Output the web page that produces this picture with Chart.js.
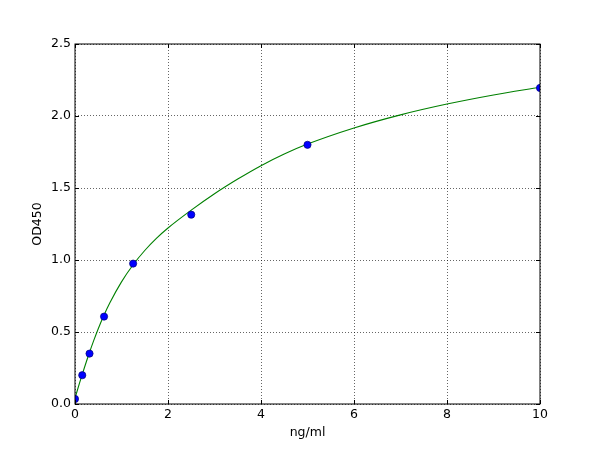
<!DOCTYPE html>
<html>
<head>
<meta charset="utf-8">
<script src="https://cdn.jsdelivr.net/npm/chart.js@4/dist/chart.umd.min.js"></script>
<style>
  html, body { margin: 0; padding: 0; background: #fff; }
</style>
</head>
<body>
<canvas id="elisaChart" width="600" height="450"></canvas>
<script>
// measured standards
const conc = [0, 0.156, 0.3125, 0.625, 1.25, 2.5, 5, 10];
const od = [0.035, 0.20, 0.35, 0.607, 0.975, 1.315, 1.80, 2.195];

// fitted curve
const curveX = [0, 0.1, 0.2, 0.3, 0.4, 0.5, 0.625, 0.75, 1, 1.25, 1.5, 1.75, 2, 2.5, 3, 3.5, 4, 4.5, 5, 6, 7, 8, 9, 10];
const curveY = [0.04, 0.148, 0.25, 0.347, 0.438, 0.523, 0.618, 0.703, 0.848, 0.967, 1.066, 1.150, 1.222, 1.346, 1.460, 1.562, 1.655, 1.736, 1.805, 1.917, 2.008, 2.083, 2.146, 2.200];

const xTicks = [0, 2, 4, 6, 8, 10];
const yTicks = [0.0, 0.5, 1.0, 1.5, 2.0, 2.5];

const font = { family: 'DejaVu Sans', size: 12.5 };

// frame round the plot + inward tick marks, like the old matplotlib look
const framePlugin = {
    id: 'frame',
    afterDraw(chart) {
        const { ctx, chartArea: a, scales } = chart;
        ctx.save();
        ctx.strokeStyle = '#000';
        ctx.lineWidth = 1;
        ctx.setLineDash([]);
        ctx.strokeRect(a.left, a.top, a.right - a.left, a.bottom - a.top);
        ctx.beginPath();
        xTicks.forEach(v => {
            const px = Math.round(scales.x.getPixelForValue(v)) + 0.5;
            ctx.moveTo(px, a.bottom); ctx.lineTo(px, a.bottom - 4);
            ctx.moveTo(px, a.top); ctx.lineTo(px, a.top + 4);
        });
        yTicks.forEach(v => {
            const py = Math.round(scales.y.getPixelForValue(v)) + 0.5;
            ctx.moveTo(a.left, py); ctx.lineTo(a.left + 4, py);
            ctx.moveTo(a.right, py); ctx.lineTo(a.right - 4, py);
        });
        ctx.stroke();
        ctx.restore();
    }
};

const ctx = document.getElementById('elisaChart').getContext('2d');
new Chart(ctx, {
    type: 'scatter',
    data: {
        datasets: [{
            label: 'standards',
            data: conc.map((x, i) => ({ x: x, y: od[i] })),
            backgroundColor: '#0000ff',
            borderColor: '#00007a',
            borderWidth: 0.7,
            pointRadius: 3.6,
            clip: 0
        }, {
            label: 'fit',
            data: curveX.map((x, i) => ({ x: x, y: curveY[i] })),
            showLine: true,
            pointRadius: 0,
            borderColor: '#008000',
            borderWidth: 1.1,
            cubicInterpolationMode: 'monotone',
            clip: 0
        }]
    },
    options: {
        responsive: false,
        animation: false,
        devicePixelRatio: 1,
        layout: { padding: { top: 44, right: 60, left: 0, bottom: 0 } },
        plugins: {
            legend: { display: false },
            tooltip: { enabled: false }
        },
        scales: {
            x: {
                type: 'linear',
                min: 0,
                max: 10,
                afterBuildTicks: s => { s.ticks = xTicks.map(v => ({ value: v })); },
                afterFit: s => { s.height = 46; },
                ticks: { color: '#000', font: font, padding: 3 },
                grid: { color: 'rgba(0,0,0,0.6)', lineWidth: 1, drawTicks: false },
                border: { display: false, dash: [1, 2] },
                title: { display: true, text: 'ng/ml', color: '#000', font: font, padding: { top: 0, bottom: 9.5 } }
            },
            y: {
                type: 'linear',
                min: 0,
                max: 2.5,
                afterBuildTicks: s => { s.ticks = yTicks.map(v => ({ value: v })); },
                afterFit: s => { s.width = 75; },
                ticks: { color: '#000', font: font, padding: 4, callback: v => v.toFixed(1) },
                grid: { color: 'rgba(0,0,0,0.6)', lineWidth: 1, drawTicks: false },
                border: { display: false, dash: [1, 2] },
                title: { display: true, text: 'OD450', color: '#000', font: font, padding: { top: 30.5, bottom: 0 } }
            }
        }
    },
    plugins: [framePlugin]
});
</script>
</body>
</html>
